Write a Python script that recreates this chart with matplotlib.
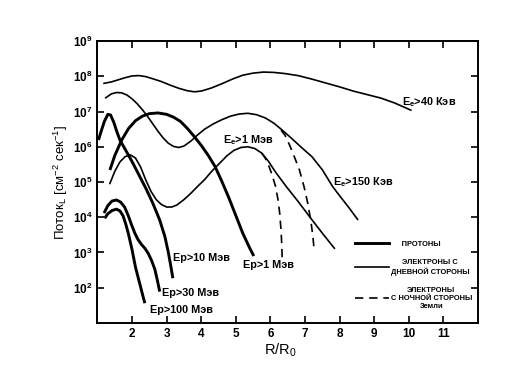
import numpy as np
import matplotlib
matplotlib.use("Agg")
import matplotlib.pyplot as plt
from matplotlib.lines import Line2D

# ==========================================
# DATA (log10 of flux)
# ==========================================

# electrons, day side
e40_x = [1.19, 1.4, 1.6, 1.8, 2.0, 2.2, 2.4, 2.6, 2.85, 3.1, 3.35, 3.6, 3.8, 4.0, 4.3, 4.6, 4.9,
         5.2, 5.5, 5.8, 6.1, 6.4, 6.8, 7.2, 7.6, 8.0, 8.4, 8.8, 9.2, 9.6, 10.06]
e40_lg = [7.80, 7.84, 7.90, 7.96, 8.01, 8.02, 7.99, 7.93, 7.85, 7.75, 7.66, 7.59, 7.56, 7.58, 7.67, 7.79, 7.92,
          8.03, 8.09, 8.12, 8.11, 8.08, 8.02, 7.92, 7.81, 7.70, 7.58, 7.48, 7.38, 7.24, 7.04]

e150_x = [1.24, 1.4, 1.55, 1.7, 1.85, 2.0, 2.15, 2.3, 2.45, 2.6, 2.75, 2.9, 3.05, 3.2, 3.35, 3.5, 3.7, 3.9,
          4.1, 4.35, 4.6, 4.85, 5.1, 5.35, 5.6, 5.85, 6.1, 6.31, 6.6, 6.9, 7.2, 7.5, 7.8, 8.05, 8.28, 8.52]
e150_lg = [7.39, 7.50, 7.54, 7.53, 7.47, 7.36, 7.22, 7.05, 6.86, 6.65, 6.44, 6.25, 6.10, 6.01, 5.98, 6.02, 6.16, 6.34,
           6.50, 6.65, 6.77, 6.87, 6.93, 6.95, 6.91, 6.82, 6.67, 6.50, 6.25, 5.98, 5.72, 5.35, 4.87, 4.55, 4.26, 3.94]

e1_x = [1.36, 1.5, 1.65, 1.8, 1.95, 2.1, 2.25, 2.4, 2.55, 2.7, 2.85, 3.0, 3.15, 3.3, 3.5, 3.7, 3.9,
        4.1, 4.3, 4.53, 4.75, 4.95, 5.15, 5.35, 5.55, 5.75, 5.95, 6.15, 6.46, 6.8, 7.13, 7.5, 7.85]
e1_lg = [4.96, 5.30, 5.57, 5.72, 5.77, 5.68, 5.42, 5.05, 4.73, 4.50, 4.36, 4.29, 4.29, 4.35, 4.50, 4.68, 4.88,
         5.07, 5.30, 5.53, 5.75, 5.90, 5.98, 6.00, 5.95, 5.82, 5.58, 5.28, 4.87, 4.45, 4.02, 3.55, 3.12]

# electrons, night side
e1n_x = [5.75, 5.85, 5.95, 6.05, 6.15, 6.22, 6.27, 6.31, 6.33, 6.34]
e1n_lg = [5.82, 5.68, 5.47, 5.20, 4.87, 4.50, 4.11, 3.60, 3.20, 2.84]

e150n_x = [6.31, 6.42, 6.55, 6.7, 6.84, 6.97, 7.08, 7.17, 7.23, 7.27]
e150n_lg = [6.47, 6.33, 6.06, 5.70, 5.34, 4.88, 4.40, 3.90, 3.45, 3.02]

# protons
p1_x = [1.36, 1.5, 1.7, 1.9, 2.1, 2.3, 2.5, 2.75, 3.0, 3.2, 3.4, 3.6, 3.8, 4.0, 4.2, 4.4, 4.6, 4.8,
        5.0, 5.2, 5.4, 5.52]
p1_lg = [5.34, 5.75, 6.19, 6.52, 6.74, 6.87, 6.94, 6.96, 6.92, 6.84, 6.72, 6.52, 6.29, 6.04, 5.76, 5.44, 5.01, 4.55,
         4.05, 3.55, 3.13, 2.90]

p10_x = [1.03, 1.1, 1.2, 1.3, 1.38, 1.47, 1.56, 1.65, 1.8, 2.0, 2.2, 2.4, 2.6, 2.8, 2.95, 3.05, 3.12, 3.18]
p10_lg = [6.19, 6.42, 6.72, 6.92, 6.90, 6.70, 6.43, 6.19, 5.93, 5.58, 5.20, 4.82, 4.40, 3.92, 3.45, 3.00, 2.62, 2.27]

p30_x = [1.19, 1.3, 1.42, 1.55, 1.67, 1.79, 1.9, 1.98, 2.08, 2.17, 2.27, 2.37, 2.47, 2.57, 2.66, 2.73, 2.8]
p30_lg = [4.12, 4.33, 4.46, 4.49, 4.43, 4.28, 4.02, 3.80, 3.55, 3.37, 3.23, 3.12, 2.97, 2.76, 2.52, 2.22, 1.89]

p100_x = [1.21, 1.3, 1.42, 1.55, 1.65, 1.74, 1.82, 1.89, 2.0, 2.1, 2.2, 2.3, 2.37]
p100_lg = [3.97, 4.10, 4.19, 4.23, 4.18, 4.04, 3.80, 3.55, 3.08, 2.58, 2.20, 1.82, 1.56]

curve_labels = ["E$_e$>40 Кэв", "E$_e$>150 Кэв", "E$_e$>1 Мэв", "Ep>1 Мэв",
                "Ep>10 Мэв", "Ep>30 Мэв", "Ep>100 Мэв"]
label_x = [9.82, 7.8, 4.63, 5.2, 3.17, 2.88, 2.53]
label_lg = [7.26, 4.99, 6.19, 2.65, 2.85, 1.84, 1.38]

y_ticks = [2, 3, 4, 5, 6, 7, 8, 9]
x_ticks = [2, 3, 4, 5, 6, 7, 8, 9, 10, 11]

# ==========================================
# PLOT
# ==========================================

plt.rcParams["font.family"] = ["Liberation Sans", "DejaVu Sans"]
plt.rcParams["font.weight"] = "bold"
plt.rcParams["mathtext.fontset"] = "custom"
plt.rcParams["mathtext.rm"] = "Liberation Sans:bold"
plt.rcParams["mathtext.it"] = "Liberation Sans:bold"
plt.rcParams["mathtext.default"] = "regular"

fig = plt.figure(figsize=(5.24, 3.91), dpi=100)
ax = fig.add_axes([0.186, 0.174, 0.726, 0.721])

thin = 1.2
thick = 2.1
dash = (0, (5, 3.5))

def pow10(v):
    return 10.0 ** np.array(v)

ax.plot(e40_x, pow10(e40_lg), color="black", lw=thin)
ax.plot(e150_x, pow10(e150_lg), color="black", lw=thin)
ax.plot(e1_x, pow10(e1_lg), color="black", lw=thin)
ax.plot(e1n_x, pow10(e1n_lg), color="black", lw=thin, ls=dash)
ax.plot(e150n_x, pow10(e150n_lg), color="black", lw=thin, ls=dash)

for xs, lg in [(p1_x, p1_lg), (p10_x, p10_lg), (p30_x, p30_lg), (p100_x, p100_lg)]:
    ax.plot(xs, pow10(lg), color="black", lw=thick, solid_capstyle="butt",
            solid_joinstyle="round")

for txt, lx, ly in zip(curve_labels, label_x, label_lg):
    ax.text(lx, 10 ** ly, txt, fontsize=7.8, ha="left", va="center")

ax.set_yscale("log")
ax.set_xlim(1, 12)
ax.set_ylim(10, 1e9)

ax.set_yticks([10.0 ** t for t in y_ticks])
ax.set_yticklabels(["10$^{%d}$" % t for t in y_ticks])
ax.minorticks_off()
ax.set_xticks(x_ticks)

ax.tick_params(direction="in", length=5, width=1.2, top=True, right=True,
               labelsize=8.5, pad=3.5)
for s in ax.spines.values():
    s.set_linewidth(1.4)

ax.set_ylabel("Поток$_L$ [см$^{-2}$ сек$^{-1}$]", fontsize=9.5)
ax.yaxis.set_label_coords(-0.072, 0.5)
ax.set_xlabel("R/R$_0$", fontsize=10.5)
ax.xaxis.set_label_coords(0.48, -0.065)

handles = [
    Line2D([], [], color="black", lw=thick),
    Line2D([], [], color="black", lw=thin),
    Line2D([], [], color="black", lw=thin, ls=dash),
]
names = ["     ПРОТОНЫ", "ЭЛЕКТРОНЫ С\nДНЕВНОЙ СТОРОНЫ", "ЭЛЕКТРОНЫ\nС НОЧНОЙ СТОРОНЫ\nЗемли"]
leg = ax.legend(handles, names, loc="upper left", bbox_to_anchor=(0.663, 0.312),
                frameon=False, fontsize=5.4, handlelength=4.6, handletextpad=0.15,
                labelspacing=1.5, borderpad=0.2)
for t in leg.get_texts():
    t.set_multialignment("center")

plt.savefig("out.png", dpi=100)
